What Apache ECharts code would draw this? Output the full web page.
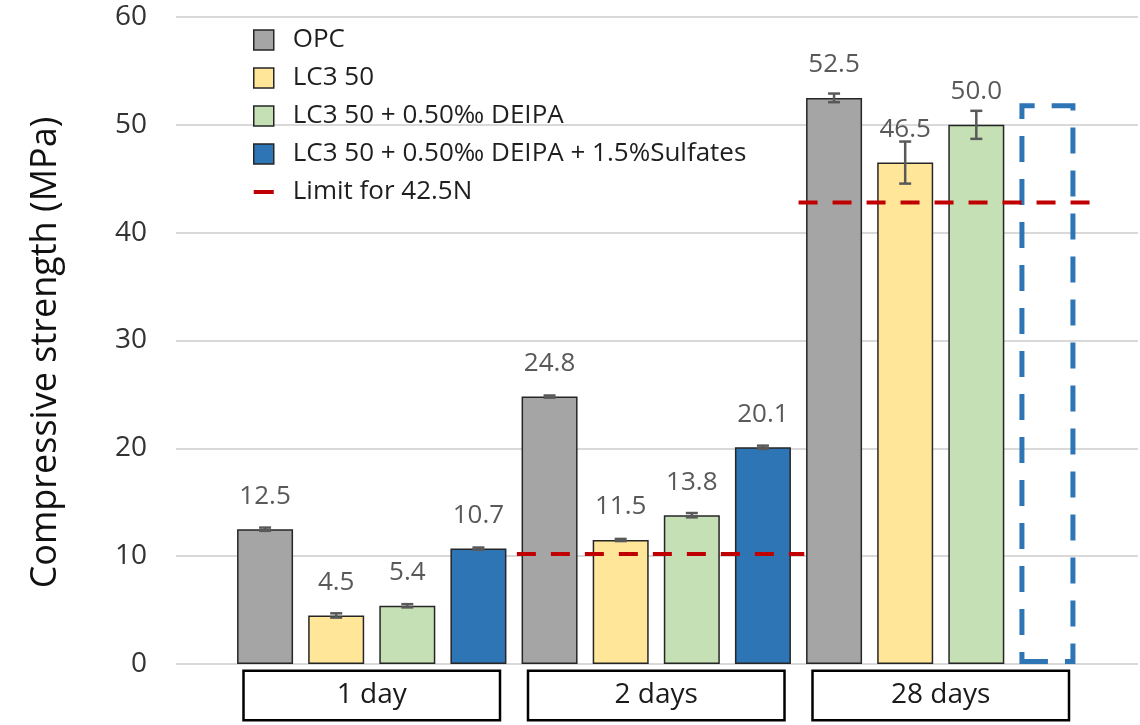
<!DOCTYPE html>
<html>
<head>
<meta charset="utf-8">
<script src="https://cdn.jsdelivr.net/npm/echarts@6/dist/echarts.min.js"></script>
<style>
html,body{margin:0;padding:0;background:#fff;}
#chart{width:1140px;height:725px;}
</style>
</head>
<body>
<div id="chart"></div>
<script>
// ---- data ----
const categories = ['1 day', '2 days', '28 days'];
const seriesNames = ['OPC', 'LC3 50', 'LC3 50 + 0.50‰ DEIPA', 'LC3 50 + 0.50‰ DEIPA + 1.5%Sulfates'];
const opc = [12.5, 24.8, 52.5];
const lc3 = [4.5, 11.5, 46.5];
const lc3Deipa = [5.4, 13.8, 50.0];
const lc3DeipaSulf = [10.7, 20.1, null];
const lc3DeipaSulfPending = [null, null, 52.0];   // dashed placeholder box
const opcErr = [0.15, 0.1, 0.4];
const lc3Err = [0.2, 0.1, 1.95];
const lc3DeipaErr = [0.15, 0.2, 1.3];
const lc3DeipaSulfErr = [0.1, 0.15, null];
const limitName = 'Limit for 42.5N';
const limit2d = 10.2;
const limit28d = 42.8;
const yTicks = [0, 10, 20, 30, 40, 50, 60];

// ---- styles ----
const colors = ['#A5A5A5', '#FFE699', '#C5E0B4', '#2E75B6'];
const BAR_W = 56, BAR_GAP = 0.27;
const FONT = '"Open Sans", "Noto Sans", sans-serif';

const values = [opc, lc3, lc3Deipa, lc3DeipaSulf];
const errs = [opcErr, lc3Err, lc3DeipaErr, lc3DeipaSulfErr];

const barSeries = values.map((arr, s) => {
  const data = arr.map((v, i) => {
    if (v == null && s === 3 && lc3DeipaSulfPending[i] != null) {
      return {
        value: lc3DeipaSulfPending[i],
        itemStyle: { color: 'rgba(0,0,0,0)', borderColor: '#2E75B6', borderWidth: 5, borderType: [26, 17] },
        label: { show: false }
      };
    }
    return v;
  });
  return {
    name: seriesNames[s], type: 'bar', xAxisIndex: 1, yAxisIndex: 1,
    barWidth: BAR_W, barGap: (BAR_GAP * 100) + '%',
    itemStyle: { color: colors[s], borderColor: '#262626', borderWidth: 1.5 },
    label: { show: true, position: 'top', distance: 20, color: '#595959', fontSize: 26, fontFamily: FONT,
      formatter: p => (typeof p.value === 'number' ? p.value.toFixed(1) : '') },
    data: data, z: 2
  };
});

const errSeries = values.map((arr, s) => ({
  type: 'custom', xAxisIndex: 1, yAxisIndex: 1, silent: true, z: 5,
  data: arr.map((v, i) => (v == null || errs[s][i] == null) ? null : [i, v - errs[s][i], v + errs[s][i]]).filter(d => d),
  renderItem: (params, api) => {
    const off = (s - 1.5) * BAR_W * (1 + BAR_GAP);
    const lo = api.coord([api.value(0), api.value(1)]);
    const hi = api.coord([api.value(0), api.value(2)]);
    const x = lo[0] + off, c = 6;
    const st = { stroke: '#595959', lineWidth: 2.5 };
    return { type: 'group', children: [
      { type: 'line', shape: { x1: x, y1: lo[1], x2: x, y2: hi[1] }, style: st },
      { type: 'line', shape: { x1: x - c, y1: lo[1], x2: x + c, y2: lo[1] }, style: st },
      { type: 'line', shape: { x1: x - c, y1: hi[1], x2: x + c, y2: hi[1] }, style: st }
    ]};
  }
}));

const limitSeries = {
  name: limitName, type: 'line', xAxisIndex: 0, yAxisIndex: 0, symbol: 'none', z: 6,
  lineStyle: { color: '#C00000', width: 4, type: [19, 15] },
  connectNulls: false,
  data: [[1.01, limit2d], [2.02, limit2d], '-', [2.0, limit28d], [3.06, limit28d]]
};

const option = {
  animation: false,
  textStyle: { fontFamily: FONT },
  grid: [
    { left: 176, right: 2, top: 17, bottom: 61 },
    { left: 229.5, right: 57, top: 17, bottom: 61 }
  ],
  legend: {
    orient: 'vertical', left: 248, top: 22, itemWidth: 20, itemHeight: 20, itemGap: 12,
    textStyle: { fontSize: 26, color: '#1f1f1f', fontFamily: FONT, padding: [0, 0, 0, 14], lineHeight: 26 },
    itemStyle: { borderColor: '#262626', borderWidth: 1.5 },
    data: seriesNames.map(n => ({ name: n, icon: 'rect' })).concat([{
      name: limitName, icon: 'path://M0,8 L20,8 L20,12 L0,12 Z',
      itemStyle: { color: '#C00000', borderWidth: 0 }
    }])
  },
  xAxis: [
    { type: 'value', gridIndex: 0, min: -0.188, max: 3.193, show: false },
    { type: 'category', gridIndex: 1, data: categories,
      axisLine: { show: false }, axisTick: { show: false },
      axisLabel: { margin: 8, fontSize: 28, color: '#1a1a1a', fontFamily: FONT,
        width: 254, height: 47, lineHeight: 47, align: 'center', verticalAlign: 'top',
        borderColor: '#000', borderWidth: 2.5, padding: 0, backgroundColor: '#fff' } }
  ],
  yAxis: [
    { type: 'value', gridIndex: 0, min: yTicks[0], max: yTicks[yTicks.length - 1], interval: 10,
      name: 'Compressive strength (MPa)', nameLocation: 'middle', nameGap: 112, nameRotate: 90,
      nameTextStyle: { fontSize: 36, color: '#111', fontFamily: FONT, padding: [0, 24, 0, 0] },
      axisLine: { show: false }, axisTick: { show: false },
      axisLabel: { margin: 29, fontSize: 28, color: '#333', fontFamily: FONT },
      splitLine: { lineStyle: { color: '#D9D9D9', width: 2 } } },
    { type: 'value', gridIndex: 1, min: 0, max: 60, interval: 10, show: false, splitLine: { show: false } }
  ],
  series: barSeries.concat(errSeries, [limitSeries])
};

const chart = echarts.init(document.getElementById('chart'), null, { renderer: 'canvas' });
chart.setOption(option);
</script>
</body>
</html>
